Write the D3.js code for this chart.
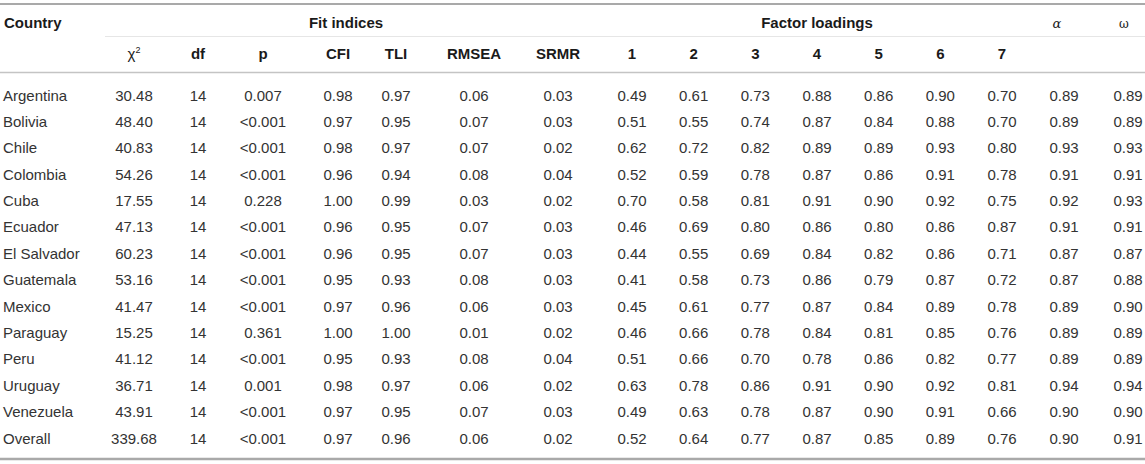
<!DOCTYPE html>
<html>
<head>
<meta charset="utf-8">
<script src="https://cdn.jsdelivr.net/npm/d3@7"></script>
<style>
  body { margin: 0; background: #fff; }
  svg text { font-family: "Liberation Sans", Arial, Helvetica, sans-serif; font-size: 15px; }
</style>
</head>
<body>
<div id="table"></div>
<script>
// Table values
const countries = ["Argentina", "Bolivia", "Chile", "Colombia", "Cuba", "Ecuador", "El Salvador",
    "Guatemala", "Mexico", "Paraguay", "Peru", "Uruguay", "Venezuela", "Overall"];
const chi2 = [30.48, 48.40, 40.83, 54.26, 17.55, 47.13, 60.23, 53.16, 41.47, 15.25, 41.12, 36.71, 43.91, 339.68];
const df = [14, 14, 14, 14, 14, 14, 14, 14, 14, 14, 14, 14, 14, 14];
const pValues = ["0.007", "<0.001", "<0.001", "<0.001", "0.228", "<0.001", "<0.001",
    "<0.001", "<0.001", "0.361", "<0.001", "0.001", "<0.001", "<0.001"];
const cfi = [0.98, 0.97, 0.98, 0.96, 1.00, 0.96, 0.96, 0.95, 0.97, 1.00, 0.95, 0.98, 0.97, 0.97];
const tli = [0.97, 0.95, 0.97, 0.94, 0.99, 0.95, 0.95, 0.93, 0.96, 1.00, 0.93, 0.97, 0.95, 0.96];
const rmsea = [0.06, 0.07, 0.07, 0.08, 0.03, 0.07, 0.07, 0.08, 0.06, 0.01, 0.08, 0.06, 0.07, 0.06];
const srmr = [0.03, 0.03, 0.02, 0.04, 0.02, 0.03, 0.03, 0.03, 0.03, 0.02, 0.04, 0.02, 0.03, 0.02];
const loadings = [
    [0.49, 0.61, 0.73, 0.88, 0.86, 0.90, 0.70],
    [0.51, 0.55, 0.74, 0.87, 0.84, 0.88, 0.70],
    [0.62, 0.72, 0.82, 0.89, 0.89, 0.93, 0.80],
    [0.52, 0.59, 0.78, 0.87, 0.86, 0.91, 0.78],
    [0.70, 0.58, 0.81, 0.91, 0.90, 0.92, 0.75],
    [0.46, 0.69, 0.80, 0.86, 0.80, 0.86, 0.87],
    [0.44, 0.55, 0.69, 0.84, 0.82, 0.86, 0.71],
    [0.41, 0.58, 0.73, 0.86, 0.79, 0.87, 0.72],
    [0.45, 0.61, 0.77, 0.87, 0.84, 0.89, 0.78],
    [0.46, 0.66, 0.78, 0.84, 0.81, 0.85, 0.76],
    [0.51, 0.66, 0.70, 0.78, 0.86, 0.82, 0.77],
    [0.63, 0.78, 0.86, 0.91, 0.90, 0.92, 0.81],
    [0.49, 0.63, 0.78, 0.87, 0.90, 0.91, 0.66],
    [0.52, 0.64, 0.77, 0.87, 0.85, 0.89, 0.76]
];
const alpha = [0.89, 0.89, 0.93, 0.91, 0.92, 0.91, 0.87, 0.87, 0.89, 0.89, 0.89, 0.94, 0.90, 0.90];
const omega = [0.89, 0.89, 0.93, 0.91, 0.93, 0.91, 0.87, 0.88, 0.90, 0.89, 0.89, 0.94, 0.90, 0.91];
const factorLabels = ["1", "2", "3", "4", "5", "6", "7"];

const width = 1145;
const height = 464;
const f2 = d3.format(".2f");

// Column layout: key, header, x centre, value getter
const columns = [
    { key: "chi2", label: "χ", sup: "2", x: 134, get: i => f2(chi2[i]) },
    { key: "df", label: "df", x: 198, get: i => df[i] },
    { key: "p", label: "p", x: 263, get: i => pValues[i] },
    { key: "cfi", label: "CFI", x: 338, get: i => f2(cfi[i]) },
    { key: "tli", label: "TLI", x: 396, get: i => f2(tli[i]) },
    { key: "rmsea", label: "RMSEA", x: 474, get: i => f2(rmsea[i]) },
    { key: "srmr", label: "SRMR", x: 558, get: i => f2(srmr[i]) }
];
const factorX = d3.scalePoint().domain(factorLabels).range([632, 1002]);
factorLabels.forEach((f, k) => {
    columns.push({ key: "f" + f, label: f, x: factorX(f), get: i => f2(loadings[i][k]) });
});
columns.push({ key: "alpha", label: null, x: 1064, get: i => f2(alpha[i]) });
columns.push({ key: "omega", label: null, x: 1128, get: i => f2(omega[i]) });

// Row baselines
const y = d3.scalePoint().domain(countries).range([100.5, 443.5]);

const svg = d3.select("#table").append("svg")
    .attr("width", width)
    .attr("height", height)
    .attr("viewBox", `0 0 ${width} ${height}`);

// Rules
svg.append("line").attr("x1", 0).attr("x2", width).attr("y1", 4).attr("y2", 4)
    .attr("stroke", "#a9a9a9").attr("stroke-width", 2);
svg.append("line").attr("x1", 105).attr("x2", width).attr("y1", 36.5).attr("y2", 36.5)
    .attr("stroke", "#e6e6e6").attr("stroke-width", 1);
svg.append("line").attr("x1", 0).attr("x2", width).attr("y1", 72.5).attr("y2", 72.5)
    .attr("stroke", "#c4c4c4").attr("stroke-width", 1.5);
svg.append("line").attr("x1", 0).attr("x2", width).attr("y1", 459).attr("y2", 459)
    .attr("stroke", "#a9a9a9").attr("stroke-width", 2.5);

// Top header row
const head = svg.append("g").attr("font-weight", "bold").attr("fill", "#1a1a1a");
head.append("text").attr("x", 4).attr("y", 27.5).text("Country");
head.append("text").attr("x", (columns[0].x + columns[6].x) / 2).attr("y", 27.5)
    .attr("text-anchor", "middle").text("Fit indices");
head.append("text").attr("x", (factorX("1") + factorX("7")) / 2).attr("y", 27.5)
    .attr("text-anchor", "middle").text("Factor loadings");

svg.append("text").attr("x", 1057).attr("y", 27.5).attr("text-anchor", "middle")
    .style("font-family", "'DejaVu Serif', serif").style("font-style", "italic")
    .style("font-size", "13px").attr("fill", "#1a1a1a").text("α");
svg.append("text").attr("x", 1124).attr("y", 27.5).attr("text-anchor", "middle")
    .style("font-family", "'DejaVu Serif', serif")
    .style("font-size", "12px").attr("fill", "#1a1a1a").text("ω");

// Second header row
const sub = svg.append("g").attr("font-weight", "bold").attr("fill", "#1a1a1a");
sub.selectAll("text")
    .data(columns.filter(c => c.label))
    .join("text")
    .attr("x", d => d.x)
    .attr("y", 58.5)
    .attr("text-anchor", "middle")
    .each(function(d) {
        const t = d3.select(this);
        if (d.sup) {
            t.attr("font-weight", "normal");
            t.append("tspan").text(d.label);
            t.append("tspan").attr("dy", -6).style("font-size", "9px").text(d.sup);
        } else {
            t.text(d.label);
        }
    });

// Body rows
const body = svg.append("g").attr("fill", "#333");
const rows = body.selectAll("g.row")
    .data(countries)
    .join("g")
    .attr("class", "row")
    .attr("transform", d => `translate(0,${y(d)})`);

rows.append("text").attr("x", 3).text(d => d);

rows.each(function(country, i) {
    d3.select(this).selectAll("text.cell")
        .data(columns)
        .join("text")
        .attr("class", "cell")
        .attr("x", c => c.x)
        .attr("text-anchor", "middle")
        .text(c => c.get(i));
});
</script>
</body>
</html>
